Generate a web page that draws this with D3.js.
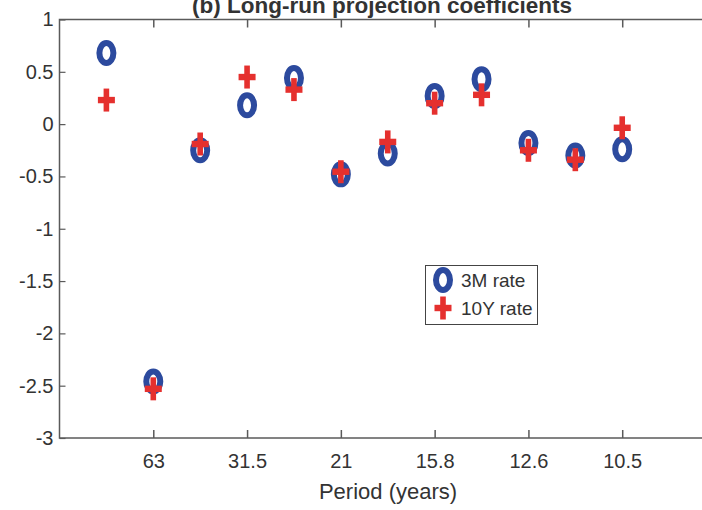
<!DOCTYPE html>
<html>
<head>
<meta charset="utf-8">
<script src="https://cdn.jsdelivr.net/npm/d3@7"></script>
<style>
  html, body { margin: 0; padding: 0; background: #fff; }
  svg { display: block; }
  text { font-family: "Liberation Sans", Arial, Helvetica, sans-serif; fill: #333; }
</style>
</head>
<body>
<svg id="chart" width="702" height="510"></svg>
<script>
// Frequency index of each projection (period = 126 / k years)
const freqIndex = [1, 2, 3, 4, 5, 6, 7, 8, 9, 10, 11, 12];
// Long-run projection coefficients
const rate3M  = [0.68, -2.46, -0.25, 0.18, 0.44, -0.48, -0.28, 0.27, 0.43, -0.18, -0.30, -0.24];
const rate10Y = [0.23, -2.53, -0.19, 0.45, 0.33, -0.455, -0.17, 0.20, 0.28, -0.25, -0.34, -0.035];
// Tick positions and their period labels
const xTickIndex  = [2, 4, 6, 8, 10, 12];
const xTickLabels = ["63", "31.5", "21", "15.8", "12.6", "10.5"];
const yTicks = [1, 0.5, 0, -0.5, -1, -1.5, -2, -2.5, -3];
const seriesNames = ["3M rate", "10Y rate"];

const BLUE = "#2c4a9e";
const RED = "#e5302e";
const AXIS = "#5a5a5a";

const svg = d3.select("#chart");
const plotL = 59.5, plotR = 716, plotT = 19.5, plotB = 438;

const x = d3.scaleLinear().domain([0, 14]).range([plotL, plotR]);
const y = d3.scaleLinear().domain([-3, 1]).range([plotB, plotT]);

// Title (runs off the top edge)
svg.append("text")
  .attr("x", 192).attr("y", 13)
  .style("font-weight", "bold")
  .style("font-size", "22.5px")
  .text("(b) Long-run projection coefficients");

// Frame
svg.append("rect")
  .attr("x", plotL).attr("y", plotT)
  .attr("width", plotR - plotL).attr("height", plotB - plotT)
  .attr("fill", "none").attr("stroke", AXIS).attr("stroke-width", 1.5);

// Bottom axis: inward ticks with period labels
const xAxis = d3.axisBottom(x)
  .tickValues(xTickIndex)
  .tickFormat((d, i) => xTickLabels[i])
  .tickSizeInner(-8).tickSizeOuter(0).tickPadding(16);
const gx = svg.append("g").attr("transform", `translate(0,${plotB})`).call(xAxis);
gx.select(".domain").remove();
gx.selectAll(".tick line").attr("stroke", AXIS).attr("stroke-width", 1.5);
gx.selectAll(".tick text").style("font-size", "20px").attr("fill", "#333");

// Top axis: inward ticks only
const gxTop = svg.append("g").attr("transform", `translate(0,${plotT})`)
  .call(d3.axisTop(x).tickValues(xTickIndex).tickFormat("").tickSizeInner(-8).tickSizeOuter(0));
gxTop.select(".domain").remove();
gxTop.selectAll(".tick line").attr("stroke", AXIS).attr("stroke-width", 1.5);

// Left axis
const yAxis = d3.axisLeft(y)
  .tickValues(yTicks)
  .tickSizeInner(-6).tickSizeOuter(0).tickPadding(6);
const gy = svg.append("g").attr("transform", `translate(${plotL},0)`).call(yAxis);
gy.select(".domain").remove();
gy.selectAll(".tick line").attr("stroke", AXIS).attr("stroke-width", 1.2);
gy.selectAll(".tick text").style("font-size", "20px").attr("fill", "#333")
  .text(d => d3.format("~g")(d).replace("\u2212", "-"));

// Axis title
svg.append("text")
  .attr("x", 388).attr("y", 499)
  .attr("text-anchor", "middle")
  .style("font-size", "22px")
  .text("Period (years)");

// Marker shapes
function drawCircleMarker(g, cx, cy) {
  g.append("ellipse")
    .attr("cx", cx).attr("cy", cy).attr("rx", 7).attr("ry", 10)
    .attr("fill", "none").attr("stroke", BLUE).attr("stroke-width", 6);
}
function drawCrossMarker(g, cx, cy) {
  g.append("rect").attr("x", cx - 8.5).attr("y", cy - 3.2).attr("width", 17).attr("height", 6.4).attr("fill", RED);
  g.append("rect").attr("x", cx - 2.8).attr("y", cy - 11.5).attr("width", 5.6).attr("height", 23).attr("fill", RED);
}

const marks = svg.append("g");
freqIndex.forEach((k, i) => drawCircleMarker(marks, x(k), y(rate3M[i])));
freqIndex.forEach((k, i) => drawCrossMarker(marks, x(k), y(rate10Y[i])));

// Legend
const lg = svg.append("g");
lg.append("rect")
  .attr("x", 425.5).attr("y", 265.5).attr("width", 112).attr("height", 59)
  .attr("fill", "#fff").attr("stroke", "#444").attr("stroke-width", 1);
drawCircleMarker(lg, 443, 280);
drawCrossMarker(lg, 443, 308);
lg.append("text").attr("x", 461).attr("y", 287).style("font-size", "19px").text(seriesNames[0]);
lg.append("text").attr("x", 461).attr("y", 315).style("font-size", "19px").text(seriesNames[1]);
</script>
</body>
</html>
